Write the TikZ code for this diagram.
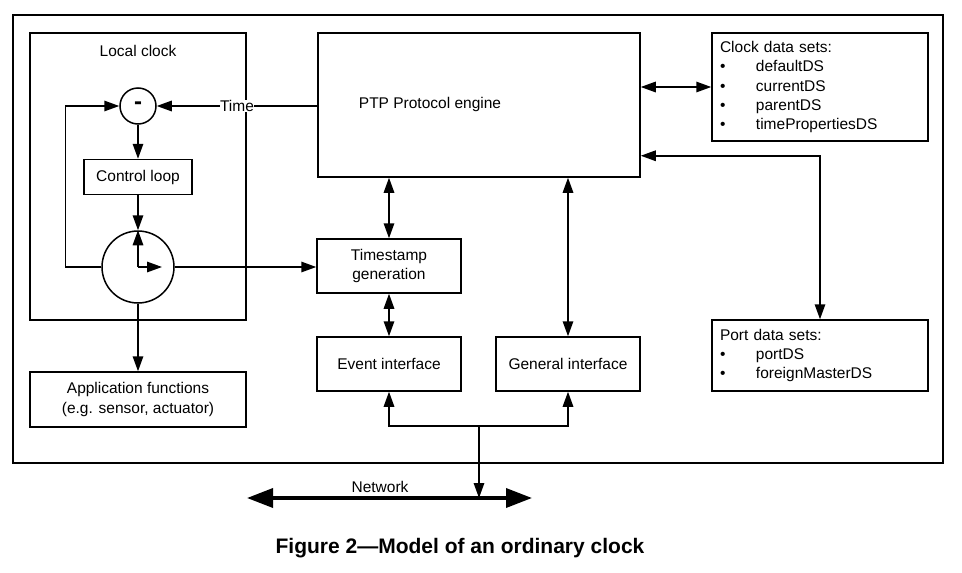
\documentclass[tikz,border=0pt]{standalone}
\usepackage{fontspec}
\setmainfont{Liberation Sans}
\usetikzlibrary{arrows.meta}
\tikzset{
  blk/.style={draw, line width=1.5pt, rectangle, inner sep=0pt, align=center},
  sum/.style={draw, line width=1.5pt, circle, inner sep=0pt},
  arr/.style={line width=1.5pt, -{Triangle[length=15pt,width=10.5pt]}},
  darr/.style={line width=1.5pt, {Triangle[length=15pt,width=10.5pt]}-{Triangle[length=15pt,width=10.5pt]}},
  netarr/.style={line width=3.5pt, {Triangle[length=26pt,width=19pt]}-{Triangle[length=26pt,width=19pt]}},
  dslist/.style={blk, align=left, inner sep=8pt, text width=200pt},
}
\newcommand{\dsitem}[1]{\makebox[36pt][l]{\textbullet}#1}
\begin{document}
\begin{tikzpicture}[x=1pt,y=-1pt,font=\fontsize{15.5}{19.3}\selectfont]
\useasboundingbox (0,0) rectangle (962,573);
\draw[line width=1.5pt] (13,15) rectangle (943,463);
% local clock
\node[blk, minimum width=216pt, minimum height=287pt] (lclk) at (138,176.5) {};
\node (lclktxt) at (138,51) {Local clock};
\node[sum, minimum size=36pt] (minus) at (138,106) {\fontsize{24}{24}\selectfont\bfseries -};
\node[blk, minimum width=108pt, minimum height=35pt] (ctrl) at (138,177) {Control loop};
\node[sum, minimum size=72pt] (osc) at (138,267) {};
\node[blk, minimum width=216pt, minimum height=55pt] (app) at (138,399.5)
  {Application functions\\(e.g. sensor, actuator)};
% protocol side
\node[blk, minimum width=322pt, minimum height=144pt] (ptp) at (479,105) {};
\node (ptptxt) at (430,104) {PTP Protocol engine};
\node[blk, minimum width=144pt, minimum height=54pt] (tsg) at (389,266) {Timestamp\\generation};
\node[blk, minimum width=144pt, minimum height=54pt] (evt) at (389,364) {Event interface};
\node[blk, minimum width=144pt, minimum height=54pt] (gen) at (568,364) {General interface};
\node[dslist, minimum height=106pt] (cds) at (820,87)
  {Clock data sets:\\\dsitem{defaultDS}\\\dsitem{currentDS}\\\dsitem{parentDS}\\\dsitem{timePropertiesDS}};
\node[dslist, minimum height=71pt] (pds) at (820,355.5)
  {Port data sets:\\\dsitem{portDS}\\\dsitem{foreignMasterDS}};
% connectors
\draw[arr] (ptp.west |- minus) -- (minus.east)
  node[midway, fill=white, inner sep=0.5pt] (timetxt) {Time};
\draw[arr] (osc.west) -- ++(-36,0) |- (minus.west);
\draw[arr] (minus.south) -- (ctrl.north);
\draw[arr] (ctrl.south) -- (osc.north);
\draw[arr] (osc.center) -- (osc.north);
\draw[arr] (osc.center) -- ++(24,0);
\draw[arr] (osc.east) -- (tsg.west |- osc.east);
\draw[arr] (osc.south) -- (app.north);
\draw[darr] (tsg.north |- ptp.south) -- (tsg.north);
\draw[darr] (tsg.south) -- (evt.north);
\draw[darr] (gen.north |- ptp.south) -- (gen.north);
\draw[darr] (ptp.east |- cds.west) -- (cds.west);
\draw[darr] ([yshift=22pt]ptp.south east) -| (pds.north);
% network
\coordinate (bus) at (479,426);
\coordinate (netl) at (247,498);
\coordinate (netr) at (532,498);
\draw[arr] (bus) -| (evt.south);
\draw[arr] (bus) -| (gen.south);
\draw[netarr] (netl) -- (netr);
\draw[arr] (bus) -- (bus |- netl);
\node (nettxt) at (380,487) {Network};
\node[font=\fontsize{21}{24}\selectfont\bfseries] (caption) at (460,548) {Figure 2---Model of an ordinary clock};
\end{tikzpicture}
\end{document}
